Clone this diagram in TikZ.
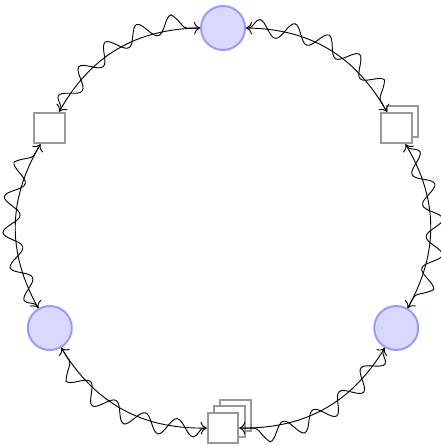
\documentclass[tikz,border=0pt]{standalone}
\usepackage{xcolor}
\usetikzlibrary{shadows,decorations.pathmorphing,arrows.meta}
\tikzset{
  statenode/.style={circle, draw=blue!40, fill=blue!15, line width=1.4pt,
                    minimum size=1.1cm, inner sep=0pt},
  boxnode/.style={rectangle, draw=gray!80, fill=white, line width=1.3pt,
                  minimum size=0.77cm, inner sep=0pt},
  boxshadow/.style={shadow xshift=4.5pt, shadow yshift=4.5pt, draw=gray!80, fill=white, line width=1.3pt},
  flowarc/.style={-{To[scale=1.4]}, line width=0.65pt},
  wavearc/.style={-{To[scale=1.4]}, line width=0.65pt, decorate,
                  decoration={snake, amplitude=0.22cm, segment length=0.85cm,
                              pre length=2pt, post length=4pt}}
}

\begin{document}
\begin{tikzpicture}
  \useasboundingbox (-5.575,-5.45) rectangle (5.425,5.7);

  % States on the ring
  \node[statenode] (top)   at (90:5cm)  {};
  \node[boxnode]   (nw)    at (150:5cm) {};
  \node[statenode] (sw)    at (210:5cm) {};
  \node[boxnode, double copy shadow={boxshadow}] (bot) at (270:5cm) {};
  \node[statenode] (se)    at (330:5cm) {};
  \node[boxnode, copy shadow={boxshadow}] (ne) at (30:5cm) {};

  % Plain arcs (counterclockwise)
  \draw[flowarc] (ne)  to[bend right=30] (top);
  \draw[flowarc] (top) to[bend right=30] (nw);
  \draw[flowarc] (nw)  to[bend right=30] (sw);
  \draw[flowarc] (sw)  to[bend right=30] (bot);
  \draw[flowarc] (bot) to[bend right=30] (se);
  \draw[flowarc] (se)  to[bend right=30] (ne);

  % Wavy arcs (clockwise)
  \draw[wavearc] (top) to[bend left=30] (ne);
  \draw[wavearc] (nw)  to[bend left=30] (top);
  \draw[wavearc] (sw)  to[bend left=30] (nw);
  \draw[wavearc] (bot) to[bend left=30] (sw);
  \draw[wavearc] (se)  to[bend left=30] (bot);
  \draw[wavearc] (ne)  to[bend left=30] (se);
\end{tikzpicture}
\end{document}
